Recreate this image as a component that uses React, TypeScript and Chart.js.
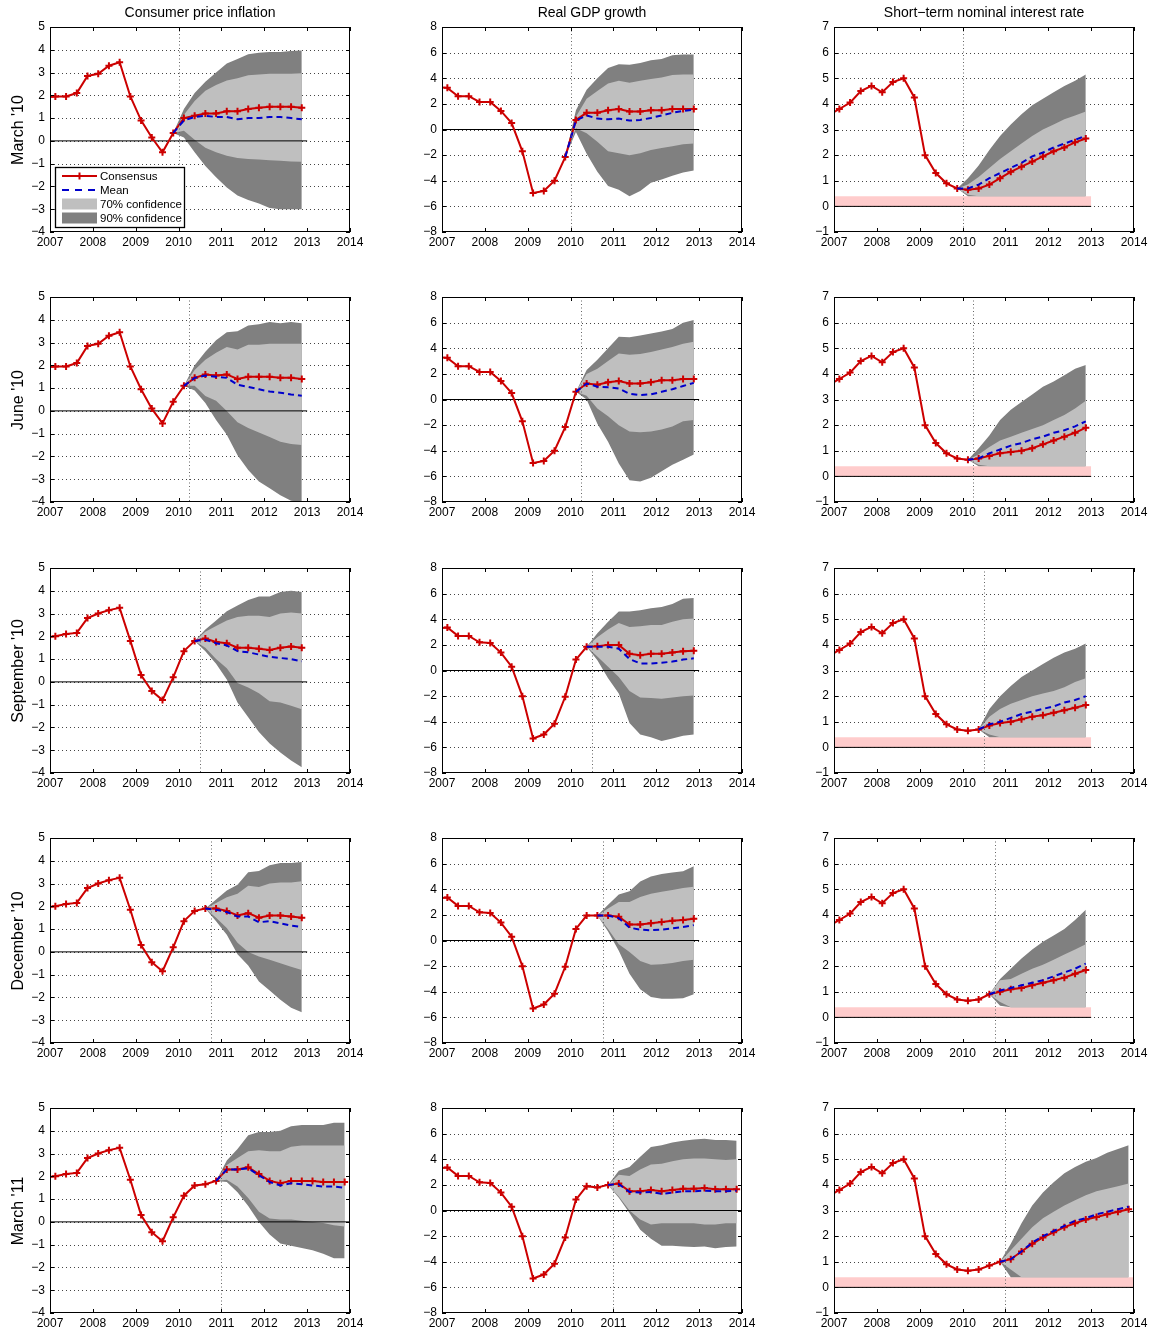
import { useEffect, useRef } from "react"
import { Chart, registerables } from "chart.js"

Chart.register(...registerables)
Chart.defaults.font.family = "'Liberation Sans', Arial, Helvetica, sans-serif"

// ---- data ---------------------------------------------------------------
// quarterly series, first value is 2006 Q4 (clipped at the left edge)
const FIRST_QUARTER = 2006.875

const vintages = ["March '10", "June '10", "September '10", "December '10", "March '11"]
const vintageDates = [2010, 2010.25, 2010.5, 2010.75, 2011]
const horizonEnds = [2013, 2013, 2013, 2013, 2014]
const columnTitles = ["Consumer price inflation", "Real GDP growth", "Short\u2212term nominal interest rate"]
const legendLabels = ["Consensus", "Mean", "70% confidence", "90% confidence"]
const yMins = [-4, -8, -1]
const yMaxs = [5, 8, 7]
const ySteps = [1, 2, 1]
const zlbTop = 0.4

// Consumer price inflation
const cpiConsMar10 = [1.9, 1.95, 1.95, 2.1, 2.85, 2.95, 3.3, 3.45, 1.95, 0.9, 0.15, -0.5, 0.35, 1.0, 1.1, 1.2, 1.2, 1.3, 1.3, 1.4, 1.45, 1.5, 1.5, 1.5, 1.45]
const cpiMeanMar10 = [0.35, 0.9, 1.05, 1.1, 1.05, 1.05, 0.95, 1.0, 1.0, 1.05, 1.05, 1.0, 0.95]
const cpiHi90Mar10 = [0.35, 1.4, 2.1, 2.6, 3.0, 3.4, 3.6, 3.8, 3.87, 3.9, 3.9, 3.95, 3.97]
const cpiHi70Mar10 = [0.35, 1.15, 1.75, 2.2, 2.45, 2.65, 2.75, 2.88, 2.92, 2.95, 2.95, 2.95, 2.97]
const cpiLo70Mar10 = [0.35, 0.45, 0.05, -0.3, -0.5, -0.65, -0.75, -0.8, -0.82, -0.85, -0.87, -0.9, -0.92]
const cpiLo90Mar10 = [0.35, 0.15, -0.5, -1.1, -1.6, -2.05, -2.4, -2.6, -2.75, -2.95, -3.0, -3.0, -3.0]

const cpiConsJun10 = [1.9, 1.95, 1.95, 2.1, 2.85, 2.95, 3.3, 3.45, 1.95, 0.95, 0.1, -0.55, 0.4, 1.1, 1.45, 1.6, 1.55, 1.6, 1.4, 1.5, 1.5, 1.5, 1.45, 1.45, 1.4]
const cpiMeanJun10 = [1.1, 1.45, 1.55, 1.5, 1.45, 1.15, 1.05, 0.95, 0.85, 0.8, 0.72, 0.66]
const cpiHi90Jun10 = [1.1, 2.0, 2.6, 3.1, 3.45, 3.5, 3.75, 3.8, 3.9, 3.85, 3.9, 3.85]
const cpiHi70Jun10 = [1.1, 1.8, 2.25, 2.55, 2.8, 2.7, 2.9, 2.9, 2.95, 2.95, 2.95, 2.95]
const cpiLo70Jun10 = [1.1, 1.1, 0.65, 0.45, 0.0, -0.5, -0.75, -0.95, -1.15, -1.35, -1.45, -1.5]
const cpiLo90Jun10 = [1.1, 0.9, 0.35, -0.4, -1.05, -1.95, -2.6, -3.1, -3.4, -3.7, -3.95, -4.0]

const cpiConsSep10 = [1.95, 2.0, 2.1, 2.15, 2.8, 3.0, 3.15, 3.25, 1.8, 0.3, -0.4, -0.8, 0.2, 1.35, 1.8, 1.9, 1.75, 1.7, 1.5, 1.5, 1.45, 1.4, 1.5, 1.55, 1.5]
const cpiMeanSep10 = [1.8, 1.85, 1.7, 1.6, 1.35, 1.3, 1.2, 1.1, 1.05, 1.0, 0.9]
const cpiHi90Sep10 = [1.8, 2.3, 2.7, 3.1, 3.35, 3.6, 3.75, 3.75, 3.95, 4.0, 3.95]
const cpiHi70Sep10 = [1.8, 2.2, 2.45, 2.7, 2.85, 2.9, 2.9, 2.85, 3.0, 3.05, 3.0]
const cpiLo70Sep10 = [1.8, 1.5, 1.0, 0.6, -0.05, -0.25, -0.5, -0.85, -0.9, -1.05, -1.2]
const cpiLo90Sep10 = [1.8, 1.35, 0.8, 0.1, -0.9, -1.55, -2.2, -2.7, -3.1, -3.45, -3.75]

const cpiConsDec10 = [1.95, 2.0, 2.1, 2.15, 2.8, 3.0, 3.15, 3.25, 1.85, 0.3, -0.45, -0.85, 0.2, 1.35, 1.8, 1.9, 1.9, 1.8, 1.6, 1.7, 1.5, 1.6, 1.6, 1.55, 1.5]
const cpiMeanDec10 = [1.9, 1.85, 1.75, 1.55, 1.55, 1.3, 1.35, 1.25, 1.15, 1.1]
const cpiHi90Dec10 = [1.9, 2.3, 2.7, 2.95, 3.5, 3.55, 3.8, 3.9, 3.9, 3.95]
const cpiHi70Dec10 = [1.9, 2.15, 2.4, 2.55, 2.9, 2.85, 3.0, 3.05, 3.05, 3.1]
const cpiLo70Dec10 = [1.9, 1.5, 1.05, 0.4, 0.0, -0.2, -0.35, -0.5, -0.65, -0.8]
const cpiLo90Dec10 = [1.9, 1.35, 0.75, -0.1, -0.6, -1.3, -1.7, -2.1, -2.45, -2.65]

const cpiConsMar11 = [1.95, 2.0, 2.1, 2.15, 2.8, 3.0, 3.15, 3.25, 1.85, 0.3, -0.45, -0.85, 0.2, 1.15, 1.6, 1.65, 1.8, 2.3, 2.3, 2.4, 2.1, 1.8, 1.7, 1.8, 1.8, 1.8, 1.75, 1.75, 1.75]
const cpiMeanMar11 = [1.8, 2.3, 2.3, 2.35, 2.05, 1.75, 1.6, 1.7, 1.65, 1.6, 1.55, 1.55, 1.5]
const cpiHi90Mar11 = [1.8, 2.7, 3.2, 3.8, 3.95, 3.95, 4.0, 4.2, 4.25, 4.25, 4.25, 4.35, 4.35]
const cpiHi70Mar11 = [1.8, 2.5, 2.8, 3.1, 3.15, 3.1, 3.1, 3.3, 3.35, 3.35, 3.35, 3.35, 3.35]
const cpiLo70Mar11 = [1.8, 1.85, 1.55, 1.05, 0.45, 0.15, 0.1, 0.1, 0.05, 0.0, -0.05, -0.15, -0.2]
const cpiLo90Mar11 = [1.8, 1.75, 1.3, 0.7, 0.0, -0.55, -0.95, -1.05, -1.15, -1.25, -1.4, -1.6, -1.6]

// Real GDP growth
const gdpConsMar10 = [3.3, 3.25, 2.6, 2.6, 2.15, 2.15, 1.45, 0.5, -1.7, -4.95, -4.8, -4.0, -2.15, 0.75, 1.3, 1.3, 1.5, 1.6, 1.4, 1.4, 1.5, 1.5, 1.6, 1.6, 1.6]
const gdpMeanMar10 = [-2.15, 0.7, 1.1, 0.85, 0.8, 0.85, 0.7, 0.75, 0.9, 1.1, 1.3, 1.45, 1.55]
const gdpHi90Mar10 = [-2.15, 1.5, 3.1, 4.0, 4.8, 5.1, 5.05, 5.2, 5.4, 5.5, 5.8, 5.85, 5.85]
const gdpHi70Mar10 = [-2.15, 1.0, 2.4, 3.0, 3.6, 3.8, 3.65, 3.8, 3.95, 4.05, 4.25, 4.3, 4.3]
const gdpLo70Mar10 = [-2.15, 0.1, -0.3, -0.95, -1.7, -1.85, -2.0, -1.85, -1.6, -1.45, -1.3, -1.15, -1.1]
const gdpLo90Mar10 = [-2.15, -0.2, -1.9, -3.3, -4.4, -4.7, -5.2, -4.8, -4.15, -3.9, -3.6, -3.35, -3.2]

const gdpConsJun10 = [3.3, 3.25, 2.6, 2.6, 2.15, 2.15, 1.45, 0.5, -1.7, -4.95, -4.8, -4.0, -2.15, 0.6, 1.25, 1.15, 1.35, 1.45, 1.25, 1.25, 1.35, 1.5, 1.5, 1.6, 1.6]
const gdpMeanJun10 = [0.6, 1.25, 1.0, 0.95, 0.85, 0.45, 0.35, 0.4, 0.6, 0.8, 1.05, 1.3]
const gdpHi90Jun10 = [0.6, 2.3, 3.1, 4.0, 4.9, 4.85, 5.0, 5.15, 5.3, 5.5, 6.0, 6.2]
const gdpHi70Jun10 = [0.6, 2.0, 2.4, 3.0, 3.6, 3.5, 3.55, 3.7, 3.9, 4.1, 4.35, 4.5]
const gdpLo70Jun10 = [0.6, 0.3, -0.7, -1.3, -2.0, -2.5, -2.55, -2.5, -2.35, -2.1, -1.7, -1.6]
const gdpLo90Jun10 = [0.6, 0.0, -1.9, -3.3, -5.0, -6.3, -6.4, -6.1, -5.6, -5.1, -4.7, -4.3]

const gdpConsSep10 = [3.3, 3.35, 2.7, 2.7, 2.2, 2.15, 1.4, 0.3, -2.0, -5.3, -5.0, -4.15, -2.05, 0.85, 1.85, 1.9, 2.0, 2.0, 1.3, 1.2, 1.3, 1.3, 1.4, 1.5, 1.55]
const gdpMeanSep10 = [1.85, 1.85, 1.85, 1.7, 0.9, 0.55, 0.55, 0.6, 0.7, 0.85, 0.95]
const gdpHi90Sep10 = [1.85, 2.9, 3.8, 4.6, 4.6, 4.7, 4.85, 4.95, 5.2, 5.6, 5.65]
const gdpHi70Sep10 = [1.85, 2.6, 3.2, 3.7, 3.4, 3.45, 3.55, 3.55, 3.8, 4.0, 4.05]
const gdpLo70Sep10 = [1.85, 1.1, 0.3, -0.5, -1.6, -2.1, -2.15, -2.2, -2.1, -2.0, -1.95]
const gdpLo90Sep10 = [1.85, 0.8, -0.6, -1.8, -4.1, -5.0, -5.2, -5.5, -5.3, -5.1, -5.0]

const gdpConsDec10 = [3.3, 3.35, 2.7, 2.7, 2.2, 2.15, 1.4, 0.3, -2.0, -5.3, -5.0, -4.15, -2.05, 0.9, 1.95, 1.95, 1.95, 1.85, 1.25, 1.25, 1.35, 1.45, 1.55, 1.6, 1.7]
const gdpMeanDec10 = [1.95, 1.95, 1.75, 1.0, 0.85, 0.8, 0.85, 0.95, 1.05, 1.2]
const gdpHi90Dec10 = [1.95, 2.8, 3.6, 3.85, 4.6, 5.0, 5.2, 5.3, 5.4, 5.8]
const gdpHi70Dec10 = [1.95, 2.5, 3.0, 3.0, 3.4, 3.65, 3.8, 3.95, 4.1, 4.2]
const gdpLo70Dec10 = [1.95, 0.9, -0.3, -0.9, -1.6, -1.9, -1.85, -1.75, -1.6, -1.5]
const gdpLo90Dec10 = [1.95, 0.7, -0.8, -2.6, -3.8, -4.4, -4.55, -4.55, -4.5, -4.2]

const gdpConsMar11 = [3.3, 3.35, 2.7, 2.7, 2.2, 2.15, 1.4, 0.3, -2.0, -5.3, -5.0, -4.15, -2.1, 0.85, 1.9, 1.8, 2.0, 2.1, 1.5, 1.5, 1.6, 1.5, 1.6, 1.7, 1.7, 1.75, 1.65, 1.65, 1.65]
const gdpMeanMar11 = [2.0, 2.05, 1.45, 1.4, 1.45, 1.3, 1.4, 1.5, 1.5, 1.55, 1.5, 1.5, 1.55]
const gdpHi90Mar11 = [2.0, 3.1, 3.4, 4.2, 4.95, 5.1, 5.3, 5.45, 5.55, 5.6, 5.5, 5.5, 5.45]
const gdpHi70Mar11 = [2.0, 2.8, 2.7, 3.2, 3.6, 3.65, 3.85, 4.0, 4.05, 4.05, 4.0, 3.95, 4.0]
const gdpLo70Mar11 = [2.0, 1.1, 0.0, -0.7, -1.1, -1.0, -1.0, -1.0, -1.0, -1.1, -1.1, -1.0, -1.0]
const gdpLo90Mar11 = [2.0, 1.0, -0.2, -1.5, -2.2, -2.75, -2.75, -2.8, -2.85, -2.8, -2.95, -2.85, -2.8]

// Short-term nominal interest rate
const rateConsMar10 = [3.55, 3.8, 4.05, 4.5, 4.7, 4.45, 4.85, 5.0, 4.25, 2.0, 1.3, 0.9, 0.7, 0.65, 0.7, 0.85, 1.1, 1.35, 1.55, 1.75, 1.95, 2.15, 2.3, 2.5, 2.65]
const rateMeanMar10 = [0.7, 0.7, 0.85, 1.1, 1.3, 1.5, 1.7, 1.95, 2.1, 2.3, 2.45, 2.6, 2.75]
const rateHi90Mar10 = [0.7, 1.1, 1.6, 2.2, 2.75, 3.2, 3.6, 3.95, 4.2, 4.45, 4.7, 4.9, 5.15]
const rateHi70Mar10 = [0.7, 0.85, 1.15, 1.5, 1.85, 2.15, 2.45, 2.75, 3.0, 3.2, 3.4, 3.55, 3.7]
const rateLo70Mar10 = [0.7, 0.45, 0.4, 0.4, 0.4, 0.4, 0.4, 0.4, 0.4, 0.4, 0.4, 0.4, 0.4]
const rateLo90Mar10 = [0.7, 0.4, 0.4, 0.4, 0.4, 0.4, 0.4, 0.4, 0.4, 0.4, 0.4, 0.4, 0.4]

const rateConsJun10 = [3.55, 3.8, 4.05, 4.5, 4.7, 4.45, 4.85, 5.0, 4.25, 2.0, 1.3, 0.9, 0.7, 0.65, 0.7, 0.8, 0.9, 0.95, 1.0, 1.1, 1.25, 1.4, 1.55, 1.7, 1.9]
const rateMeanJun10 = [0.65, 0.7, 0.9, 1.05, 1.2, 1.3, 1.45, 1.55, 1.7, 1.8, 1.95, 2.15]
const rateHi90Jun10 = [0.65, 1.1, 1.6, 2.2, 2.6, 2.9, 3.2, 3.5, 3.7, 3.95, 4.2, 4.35]
const rateHi70Jun10 = [0.65, 0.85, 1.15, 1.4, 1.55, 1.7, 1.85, 2.0, 2.2, 2.4, 2.65, 2.95]
const rateLo70Jun10 = [0.65, 0.45, 0.4, 0.4, 0.4, 0.4, 0.4, 0.4, 0.4, 0.4, 0.4, 0.4]
const rateLo90Jun10 = [0.65, 0.4, 0.4, 0.4, 0.4, 0.4, 0.4, 0.4, 0.4, 0.4, 0.4, 0.4]

const rateConsSep10 = [3.55, 3.8, 4.05, 4.5, 4.7, 4.45, 4.85, 5.0, 4.25, 2.0, 1.3, 0.9, 0.7, 0.65, 0.7, 0.85, 0.95, 1.0, 1.1, 1.2, 1.25, 1.35, 1.45, 1.55, 1.65]
const rateMeanSep10 = [0.7, 0.9, 1.0, 1.15, 1.3, 1.4, 1.5, 1.6, 1.75, 1.85, 2.0]
const rateHi90Sep10 = [0.7, 1.5, 2.0, 2.4, 2.75, 3.0, 3.25, 3.5, 3.7, 3.85, 4.05]
const rateHi70Sep10 = [0.7, 1.2, 1.5, 1.7, 1.85, 2.0, 2.1, 2.2, 2.35, 2.55, 2.7]
const rateLo70Sep10 = [0.7, 0.5, 0.4, 0.4, 0.4, 0.4, 0.4, 0.4, 0.4, 0.4, 0.4]
const rateLo90Sep10 = [0.7, 0.4, 0.4, 0.4, 0.4, 0.4, 0.4, 0.4, 0.4, 0.4, 0.4]

const rateConsDec10 = [3.55, 3.8, 4.05, 4.5, 4.7, 4.45, 4.85, 5.0, 4.25, 2.0, 1.3, 0.9, 0.7, 0.65, 0.7, 0.9, 1.0, 1.1, 1.15, 1.25, 1.35, 1.45, 1.55, 1.7, 1.85]
const rateMeanDec10 = [0.9, 1.05, 1.15, 1.25, 1.35, 1.45, 1.6, 1.75, 1.9, 2.1]
const rateHi90Dec10 = [0.9, 1.5, 1.9, 2.3, 2.65, 2.95, 3.2, 3.45, 3.8, 4.2]
const rateHi70Dec10 = [0.9, 1.45, 1.5, 1.7, 1.9, 2.05, 2.25, 2.45, 2.65, 2.85]
const rateLo70Dec10 = [0.9, 0.6, 0.4, 0.4, 0.4, 0.4, 0.4, 0.4, 0.4, 0.4]
const rateLo90Dec10 = [0.9, 0.45, 0.4, 0.4, 0.4, 0.4, 0.4, 0.4, 0.4, 0.4]

const rateConsMar11 = [3.55, 3.8, 4.05, 4.5, 4.7, 4.45, 4.85, 5.0, 4.25, 2.0, 1.3, 0.9, 0.7, 0.65, 0.7, 0.85, 1.0, 1.1, 1.4, 1.7, 1.95, 2.15, 2.35, 2.5, 2.65, 2.75, 2.85, 2.95, 3.05]
const rateMeanMar11 = [1.0, 1.1, 1.4, 1.75, 2.0, 2.2, 2.4, 2.6, 2.7, 2.85, 2.95, 3.05, 3.15]
const rateHi90Mar11 = [1.0, 1.7, 2.5, 3.2, 3.7, 4.1, 4.45, 4.7, 4.9, 5.05, 5.25, 5.4, 5.55]
const rateHi70Mar11 = [1.0, 1.45, 1.9, 2.35, 2.7, 2.95, 3.2, 3.4, 3.6, 3.75, 3.85, 3.95, 4.05]
const rateLo70Mar11 = [1.0, 0.7, 0.4, 0.4, 0.4, 0.4, 0.4, 0.4, 0.4, 0.4, 0.4, 0.4, 0.4]
const rateLo90Mar11 = [1.0, 0.4, 0.4, 0.4, 0.4, 0.4, 0.4, 0.4, 0.4, 0.4, 0.4, 0.4, 0.4]

type Series = { cons: number[]; mean: number[]; hi90: number[]; hi70: number[]; lo70: number[]; lo90: number[] }

// table[column][row]
const table: Series[][] = [
  [
    { cons: cpiConsMar10, mean: cpiMeanMar10, hi90: cpiHi90Mar10, hi70: cpiHi70Mar10, lo70: cpiLo70Mar10, lo90: cpiLo90Mar10 },
    { cons: cpiConsJun10, mean: cpiMeanJun10, hi90: cpiHi90Jun10, hi70: cpiHi70Jun10, lo70: cpiLo70Jun10, lo90: cpiLo90Jun10 },
    { cons: cpiConsSep10, mean: cpiMeanSep10, hi90: cpiHi90Sep10, hi70: cpiHi70Sep10, lo70: cpiLo70Sep10, lo90: cpiLo90Sep10 },
    { cons: cpiConsDec10, mean: cpiMeanDec10, hi90: cpiHi90Dec10, hi70: cpiHi70Dec10, lo70: cpiLo70Dec10, lo90: cpiLo90Dec10 },
    { cons: cpiConsMar11, mean: cpiMeanMar11, hi90: cpiHi90Mar11, hi70: cpiHi70Mar11, lo70: cpiLo70Mar11, lo90: cpiLo90Mar11 },
  ],
  [
    { cons: gdpConsMar10, mean: gdpMeanMar10, hi90: gdpHi90Mar10, hi70: gdpHi70Mar10, lo70: gdpLo70Mar10, lo90: gdpLo90Mar10 },
    { cons: gdpConsJun10, mean: gdpMeanJun10, hi90: gdpHi90Jun10, hi70: gdpHi70Jun10, lo70: gdpLo70Jun10, lo90: gdpLo90Jun10 },
    { cons: gdpConsSep10, mean: gdpMeanSep10, hi90: gdpHi90Sep10, hi70: gdpHi70Sep10, lo70: gdpLo70Sep10, lo90: gdpLo90Sep10 },
    { cons: gdpConsDec10, mean: gdpMeanDec10, hi90: gdpHi90Dec10, hi70: gdpHi70Dec10, lo70: gdpLo70Dec10, lo90: gdpLo90Dec10 },
    { cons: gdpConsMar11, mean: gdpMeanMar11, hi90: gdpHi90Mar11, hi70: gdpHi70Mar11, lo70: gdpLo70Mar11, lo90: gdpLo90Mar11 },
  ],
  [
    { cons: rateConsMar10, mean: rateMeanMar10, hi90: rateHi90Mar10, hi70: rateHi70Mar10, lo70: rateLo70Mar10, lo90: rateLo90Mar10 },
    { cons: rateConsJun10, mean: rateMeanJun10, hi90: rateHi90Jun10, hi70: rateHi70Jun10, lo70: rateLo70Jun10, lo90: rateLo90Jun10 },
    { cons: rateConsSep10, mean: rateMeanSep10, hi90: rateHi90Sep10, hi70: rateHi70Sep10, lo70: rateLo70Sep10, lo90: rateLo90Sep10 },
    { cons: rateConsDec10, mean: rateMeanDec10, hi90: rateHi90Dec10, hi70: rateHi70Dec10, lo70: rateLo70Dec10, lo90: rateLo90Dec10 },
    { cons: rateConsMar11, mean: rateMeanMar11, hi90: rateHi90Mar11, hi70: rateHi70Mar11, lo70: rateLo70Mar11, lo90: rateLo90Mar11 },
  ],
]

// ---- look ---------------------------------------------------------------
const RED = "#cc0000"
const BLUE = "#0000cc"
const LIGHT = "#bfbfbf"
const DARK = "#808080"
const PINK = "#ffcccc"
const FONT = "'Liberation Sans', Arial, Helvetica, sans-serif"

const PLOT_LEFT = [50, 442, 834]
const PLOT_TOP = [27, 297, 568, 838, 1108]
const PLOT_W = 300
const PLOT_H = 205
const AXIS_W = 44
const AXIS_H = 20
// must exceed half a tick label plus the y tick padding, or chart.js pushes the area down
const PAD_TOP = 16
const PAD_RIGHT = 18

const quarterX = (i: number) => FIRST_QUARTER + 0.25 * i
const minus = (v: number) => (v < 0 ? "\u2212" + Math.abs(v) : String(v))

const decoPlugin = {
  id: "panelDeco",
  beforeDatasetsDraw(chart: any) {
    const { ctx, chartArea: a, scales } = chart
    const y = scales.y
    ctx.save()
    ctx.strokeStyle = "#444"
    ctx.lineWidth = 1
    ctx.setLineDash([1, 3])
    y.ticks.forEach((t: any) => {
      if (t.value <= y.min || t.value >= y.max) return
      const py = Math.round(y.getPixelForValue(t.value)) + 0.5
      ctx.beginPath()
      ctx.moveTo(a.left, py)
      ctx.lineTo(a.right, py)
      ctx.stroke()
    })
    ctx.restore()
  },
  afterDatasetsDraw(chart: any) {
    const { ctx, chartArea: a, scales } = chart
    const { x, y } = scales
    const opts = chart.options.plugins.panelDeco
    ctx.save()
    // forecast origin
    const vx = Math.round(x.getPixelForValue(opts.vintage)) + 0.5
    ctx.strokeStyle = "#666"
    ctx.lineWidth = 1
    ctx.setLineDash([1, 2.5])
    ctx.beginPath()
    ctx.moveTo(vx, a.top)
    ctx.lineTo(vx, a.bottom)
    ctx.stroke()
    // frame and inward ticks
    ctx.setLineDash([])
    ctx.strokeStyle = "#000"
    ctx.lineWidth = 1
    ctx.strokeRect(a.left + 0.5, a.top + 0.5, a.width - 1, a.height - 1)
    ctx.beginPath()
    x.ticks.forEach((t: any) => {
      const px = Math.round(x.getPixelForValue(t.value)) + 0.5
      ctx.moveTo(px, a.bottom)
      ctx.lineTo(px, a.bottom - 4)
      ctx.moveTo(px, a.top)
      ctx.lineTo(px, a.top + 4)
    })
    y.ticks.forEach((t: any) => {
      const py = Math.round(y.getPixelForValue(t.value)) + 0.5
      ctx.moveTo(a.left, py)
      ctx.lineTo(a.left + 4, py)
      ctx.moveTo(a.right, py)
      ctx.lineTo(a.right - 4, py)
    })
    ctx.stroke()
    if (opts.legend) drawLegend(ctx, a)
    ctx.restore()
  },
}

function drawLegend(ctx: CanvasRenderingContext2D, a: any) {
  const bx = Math.round(a.left) + 5
  const by = Math.round(a.bottom) - 65
  const bw = 129
  const bh = 60
  ctx.fillStyle = "#fff"
  ctx.fillRect(bx, by, bw, bh)
  ctx.strokeStyle = "#000"
  ctx.lineWidth = 1.3
  ctx.strokeRect(bx + 0.5, by + 0.5, bw, bh)
  const rowY = [9, 23, 37, 51].map((d) => by + d)
  const x0 = bx + 7
  const x1 = bx + 42
  // consensus
  ctx.strokeStyle = RED
  ctx.lineWidth = 2
  ctx.beginPath()
  ctx.moveTo(x0, rowY[0])
  ctx.lineTo(x1, rowY[0])
  const mx = (x0 + x1) / 2
  ctx.moveTo(mx - 3.5, rowY[0])
  ctx.lineTo(mx + 3.5, rowY[0])
  ctx.moveTo(mx, rowY[0] - 3.5)
  ctx.lineTo(mx, rowY[0] + 3.5)
  ctx.stroke()
  // mean
  ctx.strokeStyle = BLUE
  ctx.setLineDash([7, 6])
  ctx.beginPath()
  ctx.moveTo(x0, rowY[1])
  ctx.lineTo(x1, rowY[1])
  ctx.stroke()
  ctx.setLineDash([])
  // confidence patches
  ctx.fillStyle = LIGHT
  ctx.fillRect(x0, rowY[2] - 5.5, x1 - x0, 11)
  ctx.fillStyle = DARK
  ctx.fillRect(x0, rowY[3] - 5.5, x1 - x0, 11)
  ctx.fillStyle = "#000"
  ctx.font = `11.5px ${FONT}`
  ctx.textBaseline = "middle"
  ctx.textAlign = "left"
  legendLabels.forEach((label, i) => ctx.fillText(label, bx + 45, rowY[i] + 0.5))
}

const edge = (label: string, data: any[], extra: any = {}) => ({
  label,
  data,
  borderColor: "rgba(0,0,0,0)",
  borderWidth: 0,
  pointRadius: 0,
  fill: false,
  ...extra,
})

function Panel({ row, col }: { row: number; col: number }) {
  const canvasRef = useRef<HTMLCanvasElement>(null)
  const width = AXIS_W + PLOT_W + PAD_RIGHT
  const height = PAD_TOP + PLOT_H + AXIS_H

  useEffect(() => {
    if (!canvasRef.current) return
    const s = table[col][row]
    const start = s.cons.length - s.mean.length
    const pts = (vals: number[], offset: number) => vals.map((v, i) => ({ x: quarterX(offset + i), y: v }))
    const end = horizonEnds[row]

    const datasets: any[] = [
      {
        label: "Mean",
        data: pts(s.mean, start),
        borderColor: BLUE,
        borderWidth: 2,
        borderDash: [6, 4],
        pointRadius: 0,
        fill: false,
      },
      {
        label: "Consensus",
        data: pts(s.cons, 0),
        borderColor: RED,
        borderWidth: 2,
        pointStyle: "cross",
        pointRadius: 3.5,
        pointBorderWidth: 2,
        pointBorderColor: RED,
        pointBackgroundColor: RED,
        fill: false,
      },
      {
        label: "zero",
        data: [{ x: 2007, y: 0 }, { x: end, y: 0 }],
        borderColor: "#000",
        borderWidth: 1,
        pointRadius: 0,
        fill: false,
      },
      edge("hi70", pts(s.hi70, start), { fill: "+1", backgroundColor: LIGHT }),
      edge("lo70", pts(s.lo70, start)),
      edge("hi90", pts(s.hi90, start), { fill: "+1", backgroundColor: DARK }),
      edge("lo90", pts(s.lo90, start)),
    ]
    if (col === 2) {
      datasets.push(
        edge("zlbTop", [{ x: 2007, y: zlbTop }, { x: end, y: zlbTop }], { fill: "+1", backgroundColor: PINK }),
        edge("zlbBottom", [{ x: 2007, y: 0 }, { x: end, y: 0 }]),
      )
    }

    const tickFont = { size: 12, family: FONT }
    const chart = new Chart(canvasRef.current, {
      type: "line",
      data: { datasets },
      options: {
        animation: false,
        responsive: false,
        maintainAspectRatio: false,
        layout: { padding: { left: 0, top: PAD_TOP, right: PAD_RIGHT, bottom: 0 } },
        elements: { line: { tension: 0 } },
        plugins: {
          legend: { display: false },
          tooltip: { enabled: false },
          panelDeco: { vintage: vintageDates[row], legend: row === 0 && col === 0 },
        } as any,
        scales: {
          x: {
            type: "linear",
            min: 2007,
            max: 2014,
            grid: { display: false, drawTicks: false },
            border: { display: false },
            ticks: {
              stepSize: 1,
              autoSkip: false,
              maxRotation: 0,
              padding: 3,
              color: "#000",
              font: tickFont,
              callback: (v: any) => String(v),
            },
            afterFit: (axis: any) => {
              axis.height = AXIS_H
            },
          },
          y: {
            type: "linear",
            min: yMins[col],
            max: yMaxs[col],
            grid: { display: false, drawTicks: false },
            border: { display: false },
            ticks: {
              stepSize: ySteps[col],
              autoSkip: false,
              padding: 5,
              color: "#000",
              font: tickFont,
              callback: (v: any) => minus(Number(v)),
            },
            afterFit: (axis: any) => {
              axis.width = AXIS_W
            },
          },
        },
      },
      plugins: [decoPlugin],
    })

    return () => chart.destroy()
  }, [row, col])

  return (
    <canvas
      ref={canvasRef}
      width={width}
      height={height}
      style={{
        position: "absolute",
        left: PLOT_LEFT[col] - AXIS_W,
        top: PLOT_TOP[row] - PAD_TOP,
        width,
        height,
      }}
    />
  )
}

export default function App() {
  return (
    <div
      style={{
        position: "absolute",
        left: 0,
        top: 0,
        width: 1155,
        height: 1333,
        background: "#fff",
        fontFamily: FONT,
        color: "#000",
        overflow: "hidden",
      }}
    >
      {vintages.map((v, r) =>
        columnTitles.map((t, c) => <Panel key={`${v}-${t}`} row={r} col={c} />),
      )}
      {columnTitles.map((t, c) => (
        <div
          key={t}
          style={{
            position: "absolute",
            left: PLOT_LEFT[c],
            top: 3,
            width: PLOT_W,
            textAlign: "center",
            fontSize: 14,
            lineHeight: "18px",
            whiteSpace: "nowrap",
          }}
        >
          {t}
        </div>
      ))}
      {vintages.map((v, r) => (
        <div
          key={v}
          style={{
            position: "absolute",
            left: 18 - 100,
            top: PLOT_TOP[r] + PLOT_H / 2 - 10,
            width: 200,
            height: 20,
            lineHeight: "20px",
            textAlign: "center",
            fontSize: 16,
            transform: "rotate(-90deg)",
            whiteSpace: "nowrap",
          }}
        >
          {v}
        </div>
      ))}
    </div>
  )
}
